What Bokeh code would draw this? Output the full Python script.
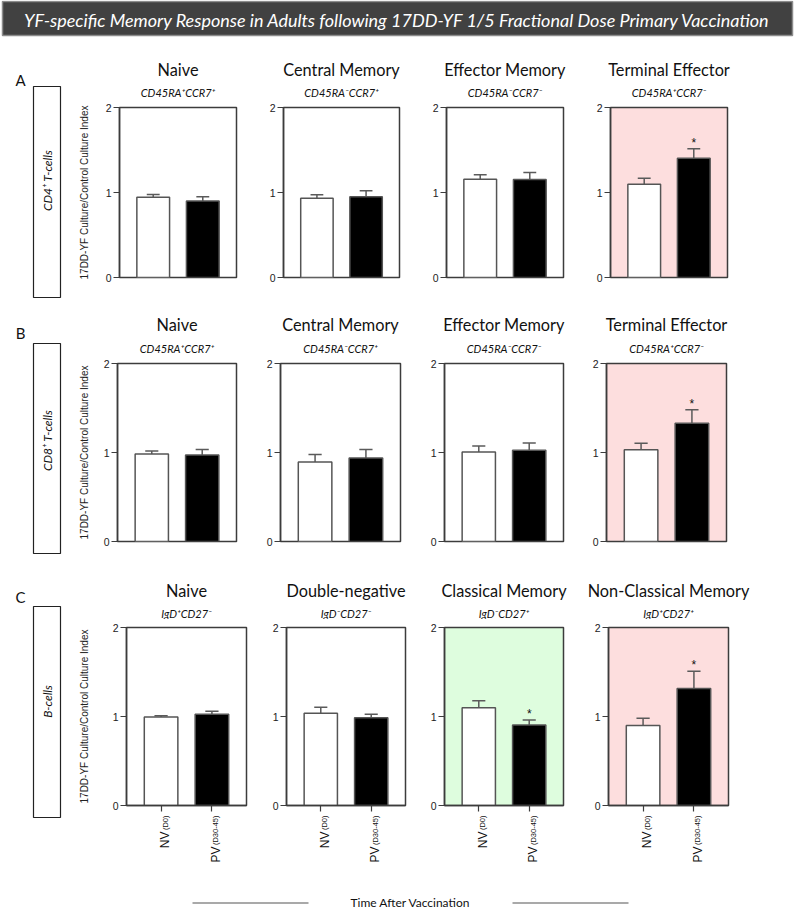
import math
from bokeh.plotting import figure
from bokeh.models import Range1d, FixedTicker, Label, ColumnDataSource
from bokeh.layouts import column, row
from bokeh.embed import file_html
from bokeh.resources import INLINE

# ---------------- data ----------------
main_title = "YF-specific Memory Response in Adults following 17DD-YF 1/5 Fractional Dose Primary Vaccination"
y_label = "17DD-YF Culture/Control Culture Index"
x_title = "Time After Vaccination"
groups = ["NV", "PV"]
group_subs = ["(D0)", "(D30-45)"]
row_letters = ["A", "B", "C"]
row_cells = ["CD4\u207a T-cells", "CD8\u207a T-cells", "B-cells"]

t_titles = ["Naive", "Central Memory", "Effector Memory", "Terminal Effector"]
t_phen = ["CD45RA\u207aCCR7\u207a", "CD45RA\u207bCCR7\u207a", "CD45RA\u207bCCR7\u207b", "CD45RA\u207aCCR7\u207b"]
b_titles = ["Naive", "Double-negative", "Classical Memory", "Non-Classical Memory"]
b_phen = ["IgD\u207aCD27\u207b", "IgD\u207bCD27\u207b", "IgD\u207bCD27\u207a", "IgD\u207aCD27\u207a"]

cd4_nv_mean = [0.945, 0.933, 1.157, 1.098]
cd4_nv_sem = [0.031, 0.040, 0.051, 0.070]
cd4_pv_mean = [0.900, 0.949, 1.153, 1.404]
cd4_pv_sem = [0.050, 0.071, 0.082, 0.110]
cd4_sig = ["", "", "", "*"]

cd8_nv_mean = [0.984, 0.894, 1.007, 1.030]
cd8_nv_sem = [0.034, 0.084, 0.067, 0.074]
cd8_pv_mean = [0.973, 0.939, 1.026, 1.329]
cd8_pv_sem = [0.061, 0.095, 0.082, 0.151]
cd8_sig = ["", "", "", "*"]

b_nv_mean = [0.994, 1.037, 1.098, 0.900]
b_nv_sem = [0.015, 0.067, 0.079, 0.080]
b_pv_mean = [1.025, 0.986, 0.905, 1.315]
b_pv_sem = [0.033, 0.040, 0.055, 0.193]
b_sig = ["", "", "*", "*"]

# ---------------- styles / layout (page pixels) ----------------
PINK = "#FDDEDE"
GREEN = "#DEFDDE"
AX = "#3c3c3c"
BAR_LINE = "#555555"
ERR = "#5a5a5a"
TXT = "#111111"
TITLE_FONT = "Lato"
AX_FONT = "Liberation Sans"
t_bg = ["white", "white", "white", PINK]
b_bg = ["white", "white", GREEN, PINK]
X0, X1 = 0.32, 2.68
LEFT_W = 92
PAGE_W = 794

rows_cfg = [
    dict(frames=[(119, 236), (283, 399), (446, 563), (610, 727)],
         head=(38, 99), title_y=69, sub_y=91.7, fh=170, bt=8, bb=8,
         letter_y=79, box=(86, 297), cell_y=180, ylab_y=192),
    dict(frames=[(117, 236), (280, 400), (444, 563), (606, 726)],
         head=(285, 355), title_y=324.3, sub_y=348.3, fh=178, bt=8, bb=8,
         letter_y=332, box=(343, 553), cell_y=440, ylab_y=452),
    dict(frames=[(126, 246), (286, 405), (444, 563), (608, 728)],
         head=(549, 619), title_y=590, sub_y=613.3, fh=178, bt=8, bb=8,
         letter_y=596.5, box=(606, 817), cell_y=701, ylab_y=716),
]
XLAB = (813, 870)          # strip holding the rotated x tick labels of row C
SUB_TOP = 815              # top end of the rotated labels
NV_TOP = [831, 846]        # top end of "NV"/"PV" after their subscripts
row_data = [
    (t_titles, t_phen, cd4_nv_mean, cd4_nv_sem, cd4_pv_mean, cd4_pv_sem, cd4_sig, t_bg),
    (t_titles, t_phen, cd8_nv_mean, cd8_nv_sem, cd8_pv_mean, cd8_pv_sem, cd8_sig, t_bg),
    (b_titles, b_phen, b_nv_mean, b_nv_sem, b_pv_mean, b_pv_sem, b_sig, b_bg),
]


def blank(w, h, xr, yr):
    p = figure(frame_width=w, frame_height=h, min_border=0, x_range=Range1d(*xr),
               y_range=Range1d(*yr), x_axis_type=None, y_axis_type=None,
               output_backend="svg", toolbar_location=None, outline_line_color=None,
               border_fill_color="white", background_fill_color="white")
    return p


def make_panel(nv_m, nv_s, pv_m, pv_s, sig, bg, bl, fw, br, fh, bt, bb, xaxis):
    p = figure(frame_width=fw, frame_height=fh, min_border_left=bl, min_border_right=br,
               min_border_top=bt, min_border_bottom=bb,
               x_range=Range1d(X0, X1), y_range=Range1d(0, 2),
               x_axis_location="below" if xaxis else None,
               output_backend="svg", toolbar_location=None,
               background_fill_color=bg, border_fill_color="white")
    p.xgrid.visible = False
    p.ygrid.visible = False
    p.outline_line_color = AX
    p.outline_line_width = 1.5
    p.outline_line_alpha = 1.0

    ya = p.yaxis[0]
    ya.ticker = FixedTicker(ticks=[0, 1, 2])
    ya.minor_tick_line_color = None
    ya.major_tick_in = 0
    ya.major_tick_out = 6
    ya.major_tick_line_color = AX
    ya.major_tick_line_width = 1.2
    ya.axis_line_color = AX
    ya.axis_line_width = 1.5
    ya.major_label_text_font = AX_FONT
    ya.major_label_text_font_size = "10.5px"
    ya.major_label_text_color = "#222222"
    ya.major_label_standoff = 2

    if xaxis:
        xa = p.xaxis[0]
        xa.ticker = FixedTicker(ticks=[1, 2])
        xa.major_label_overrides = {1: "", 2: ""}
        xa.major_label_text_font_size = "1px"
        xa.major_label_standoff = 0
        xa.minor_tick_line_color = None
        xa.major_tick_in = 0
        xa.major_tick_out = 6
        xa.major_tick_line_color = AX
        xa.major_tick_line_width = 1.2
        xa.axis_line_color = AX
        xa.axis_line_width = 1.5

    xs = [1, 2]
    tops = [nv_m, pv_m]
    errs = [nv_m + nv_s, pv_m + pv_s]
    src = ColumnDataSource(dict(x=xs, top=tops, err=errs,
                                cl=[x - 0.13 for x in xs], cr=[x + 0.13 for x in xs],
                                fill=["white", "black"]))
    p.segment(x0="x", y0="top", x1="x", y1="err", source=src, line_color=ERR, line_width=1.5)
    p.segment(x0="cl", y0="err", x1="cr", y1="err", source=src, line_color=ERR, line_width=1.5)
    p.vbar(x="x", top="top", bottom=0, width=0.66, source=src, fill_color="fill",
           line_color=BAR_LINE, line_width=1.5)

    if sig:
        p.add_layout(Label(x=2, y=pv_m + pv_s, text=sig, text_align="center",
                           text_baseline="bottom", y_offset=-1, text_font=AX_FONT,
                           text_font_size="12px", text_color=TXT))
    return p


# ---------------- title bar ----------------
tfig = blank(PAGE_W, 38, (0, PAGE_W), (38, 0))
tfig.quad(left=[2], right=[PAGE_W - 2], top=[1], bottom=[35], fill_color="#414141",
          line_color="#8c8c8c", line_width=1.5)
tfig.add_layout(Label(x=397, y=19, text=main_title, text_align="center", text_baseline="middle",
                      text_color="white", text_font=TITLE_FONT, text_font_style="italic",
                      text_font_size="18px"))

# ---------------- left column: row letters, boxes, y labels ----------------
left = blank(LEFT_W, XLAB[1] - 38, (0, LEFT_W), (XLAB[1], 38))
for i, cfg in enumerate(rows_cfg):
    left.quad(left=[33], right=[60], top=[cfg["box"][0]], bottom=[cfg["box"][1]],
              fill_color="white", line_color="#222222", line_width=1.2)
    left.add_layout(Label(x=20, y=cfg["letter_y"], text=row_letters[i], text_align="center",
                          text_baseline="middle", text_font=TITLE_FONT, text_font_size="15px",
                          text_color=TXT))
    left.add_layout(Label(x=47, y=cfg["cell_y"], text=row_cells[i], angle=math.pi / 2,
                          text_align="center", text_baseline="middle", text_font=TITLE_FONT,
                          text_font_style="italic", text_font_size="12px", text_color=TXT))
    left.add_layout(Label(x=84, y=cfg["ylab_y"], text=y_label, angle=math.pi / 2,
                          text_align="center", text_baseline="middle", text_font=AX_FONT,
                          text_font_size="10px", text_color="#222222"))

# ---------------- rows of panels ----------------
right_items = []
for i, (cfg, dat) in enumerate(zip(rows_cfg, row_data)):
    titles, phens, nvm, nvs, pvm, pvs, sigs, bgs = dat
    frames = cfg["frames"]
    spans = []
    for j, (l, r) in enumerate(frames):
        start = LEFT_W if j == 0 else l - 36
        end = frames[j + 1][0] - 36 if j < 3 else PAGE_W
        spans.append((start, end))
    row_w = spans[-1][1] - LEFT_W

    head = blank(row_w, cfg["head"][1] - cfg["head"][0], (LEFT_W, LEFT_W + row_w),
                 (cfg["head"][1], cfg["head"][0]))
    for j, (l, r) in enumerate(frames):
        head.add_layout(Label(x=(l + r) / 2, y=cfg["title_y"], text=titles[j], text_align="center",
                              text_baseline="middle", text_font=TITLE_FONT, text_font_size="16.3px",
                              text_color=TXT))
        head.add_layout(Label(x=(l + r) / 2, y=cfg["sub_y"], text=phens[j], text_align="center",
                              text_baseline="middle", text_font=TITLE_FONT,
                              text_font_style="italic", text_font_size="11px", text_color=TXT))
    right_items.append(head)

    panels = []
    strips = []
    for j, (l, r) in enumerate(frames):
        s, e = spans[j]
        bl, fw, br = l - s, r - l, e - r
        panels.append(make_panel(nvm[j], nvs[j], pvm[j], pvs[j], sigs[j], bgs[j],
                                 bl, fw, br, cfg["fh"], cfg["bt"], cfg["bb"], i == 2))
        if i == 2:
            upp = (X1 - X0) / fw
            st = blank(e - s, XLAB[1] - XLAB[0], (X0 - bl * upp, X1 + br * upp), (XLAB[1], XLAB[0]))
            for k, gx in enumerate([1, 2]):
                st.add_layout(Label(x=gx, y=SUB_TOP, text=group_subs[k], angle=math.pi / 2,
                                    text_align="right", text_baseline="alphabetic", x_offset=4,
                                    text_font=AX_FONT, text_font_size="7.5px", text_color=TXT))
                st.add_layout(Label(x=gx, y=NV_TOP[k], text=groups[k], angle=math.pi / 2,
                                    text_align="right", text_baseline="alphabetic", x_offset=4,
                                    text_font=AX_FONT, text_font_size="12px", text_color=TXT))
            strips.append(st)
    right_items.append(row(panels))
    if strips:
        right_items.append(row(strips))

# ---------------- bottom axis title ----------------
bfig = blank(PAGE_W, 911 - XLAB[1], (0, PAGE_W), (911, XLAB[1]))
bfig.segment(x0=[192, 512], y0=[902.5, 902.5], x1=[308, 628], y1=[902.5, 902.5],
             line_color="#555555", line_width=1.2)
bfig.add_layout(Label(x=410, y=902, text=x_title, text_align="center", text_baseline="middle",
                      text_font=TITLE_FONT, text_font_size="12px", text_color=TXT))

layout = column(tfig, row(left, column(right_items)), bfig)
open("out.html", "w").write(file_html(layout, INLINE))
